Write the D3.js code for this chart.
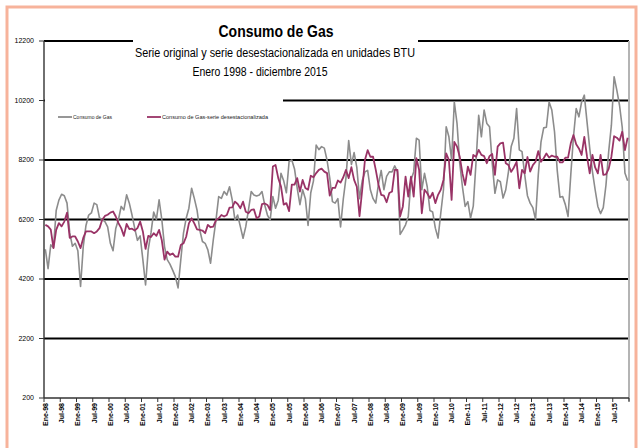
<!DOCTYPE html>
<html>
<head>
<meta charset="utf-8">
<script src="https://cdn.jsdelivr.net/npm/d3@7/dist/d3.min.js"></script>
<style>
body { margin: 0; background: #fff; }
svg { display: block; font-family: "Liberation Sans", Arial, sans-serif; }
</style>
</head>
<body>
<div id="chart"></div>
<script>
// etiquetas del eje x, una cada 6 meses
var tickLabels = ["Ene-98","Jul-98","Ene-99","Jul-99","Ene-00","Jul-00","Ene-01","Jul-01",
    "Ene-02","Jul-02","Ene-03","Jul-03","Ene-04","Jul-04","Ene-05","Jul-05","Ene-06","Jul-06",
    "Ene-07","Jul-07","Ene-08","Jul-08","Ene-09","Jul-09","Ene-10","Jul-10","Ene-11","Jul-11",
    "Ene-12","Jul-12","Ene-13","Jul-13","Ene-14","Jul-14","Ene-15","Jul-15"];
var yTicks = [200, 2200, 4200, 6200, 8200, 10200, 12200];
var seriesNames = ["Consumo de Gas", "Consumo de Gas-serie desestacionalizada"];

// serie original, ene-1998 .. dic-2015
var consumo = [
    5200, 4550, 5350, 5250, 6500, 6850, 7050, 7000, 6750, 5750, 5300, 5400,
    5150, 3950, 5300, 6000, 6350, 6420, 6750, 6700, 6250, 6200, 6130, 5950,
    5400, 5150, 5900, 6200, 6640, 6520, 7030, 6750, 6350, 5900, 5500, 5650,
    4850, 4000, 5200, 5750, 6450, 6200, 6860, 6200, 5290, 4850, 4700, 4500,
    4280, 3900, 4840, 5740, 6240, 6580, 7250, 6910, 6520, 5850, 5460, 5400,
    5180, 4730, 5510, 6180, 6970, 6910, 7140, 7020, 7300, 6860, 6180, 6350,
    5960, 5570, 5960, 6520, 7140, 7020, 6990, 7020, 7140, 6690, 6350, 6180,
    6970, 6580, 6850, 7750, 7500, 7100, 8150, 8200, 7900, 7250, 6700, 7200,
    6900, 6000, 7100, 7500, 8700, 8550, 8650, 8600, 8200, 7600, 6800, 6750,
    6900, 5950, 6880, 7600, 8850, 8050, 8450, 7950, 6900, 7500, 7800, 7850,
    7200, 6900, 6750, 7400, 7850, 7200, 7650, 7800, 7800, 8000, 7800, 5700,
    5850, 6020, 6300, 7530, 7800, 8930, 8870, 7200, 7750, 7300, 6500, 6450,
    5910, 5575, 6410, 7200, 9320, 8980, 8200, 10150, 9430, 8090, 7300, 6640,
    6800, 6250, 6650, 8100, 9700, 8980, 9880, 9430, 9320, 8090, 7080, 7530,
    7470, 6920, 7200, 7810, 8650, 8930, 9930, 8540, 8480, 7700, 7000, 6750,
    6600, 6200, 7700, 8800, 9280, 9300, 10150, 9880, 9150, 7850, 6950, 6970,
    6700, 6300, 7700, 8980, 9930, 9650, 10150, 10380, 9480, 8590, 7810, 7200,
    6640, 6400, 6600, 7360, 8480, 9370, 11000, 10550, 10040, 9300, 7760, 7500
];
// serie desestacionalizada
var desest = [
    6020, 5970, 5860, 5240, 5850, 6080, 5970, 6130, 6430, 5580, 5630, 5630,
    5460, 5240, 5580, 5800, 5800, 5800, 5740, 5800, 5910, 6190, 6320, 6360,
    6430, 6470, 6300, 6080, 5910, 5650, 6050, 5880, 5890, 5830, 5910, 6130,
    5800, 5210, 5650, 5610, 5740, 5650, 5850, 5500, 4850, 5120, 5010, 5060,
    4950, 4950, 5340, 5400, 5620, 6070, 6240, 6070, 5870, 5850, 5830, 5740,
    6020, 5940, 5960, 6180, 6240, 6350, 6300, 6350, 6600, 6610, 6800, 6720,
    6580, 6800, 6460, 6410, 6520, 6540, 6240, 6300, 6720, 6740, 6690, 6520,
    7980, 8030, 7590, 7310, 6700, 6750, 6480, 7370, 7370, 7590, 7140, 7530,
    7260, 7200, 7670, 7620, 7760, 7870, 7910, 7810, 7760, 7000, 7260, 7260,
    7510, 7440, 7620, 7870, 7590, 7960, 7530, 7300, 6310, 7200, 8200, 8530,
    8310, 8310, 7870, 7370, 7030, 7000, 6780, 7090, 7140, 7870, 7870, 6310,
    6640, 7640, 6970, 7640, 6970, 8260, 7870, 6410, 7200, 7080, 6920, 7100,
    6750, 7030, 7200, 7530, 8420, 8200, 6860, 8810, 8650, 8310, 7750, 7360,
    7980, 7700, 8370, 8310, 8540, 8370, 8330, 8090, 8330, 8400, 7700, 8650,
    8760, 8780, 8090, 8030, 7800, 7950, 8140, 7250, 7870, 7750, 8300, 7810,
    8030, 8140, 8500, 8140, 8260, 8420, 8280, 8350, 8310, 8310, 8120, 8120,
    8280, 8280, 8760, 9040, 8730, 8590, 8370, 8980, 8310, 7750, 8370, 7950,
    7750, 8370, 7700, 7720, 7900, 8310, 9000, 8950, 8850, 9150, 8530, 8950
];

var W = 642, H = 448,
    pLeft = 44, pRight = 629, pTop = 41, pBottom = 398;

var svg = d3.select("#chart").append("svg")
    .attr("width", W)
    .attr("height", H);

// marco naranja
svg.append("rect")
    .attr("x", 7).attr("y", 7)
    .attr("width", 629).attr("height", 446)
    .attr("fill", "#fff")
    .attr("stroke", "#F7B39B")
    .attr("stroke-width", 3);

var x = d3.scaleBand().domain(d3.range(consumo.length)).range([pLeft, pRight]);
var y = d3.scaleLinear().domain([200, 12200]).range([pBottom, pTop]);
var bw = x.bandwidth();

// lineas de grilla
svg.append("g").selectAll("line")
    .data(yTicks.slice(1))
    .enter().append("line")
    .attr("x1", pLeft).attr("x2", pRight)
    .attr("y1", function (d) { return y(d); })
    .attr("y2", function (d) { return y(d); })
    .attr("stroke", "#000")
    .attr("stroke-width", 2.2);

// borde derecho del area
svg.append("line")
    .attr("x1", pRight).attr("x2", pRight)
    .attr("y1", pTop).attr("y2", pBottom + 3)
    .attr("stroke", "#b4b4b4").attr("stroke-width", 2);

// series
var line = d3.line()
    .x(function (d, i) { return x(i) + bw / 2; })
    .y(function (d) { return y(d); });

svg.append("path").datum(consumo)
    .attr("d", line)
    .attr("fill", "none")
    .attr("stroke", "#8c8c8c")
    .attr("stroke-width", 1.6)
    .attr("stroke-linejoin", "round");

svg.append("path").datum(desest)
    .attr("d", line)
    .attr("fill", "none")
    .attr("stroke", "#993366")
    .attr("stroke-width", 1.8)
    .attr("stroke-linejoin", "round");

// eje y
var yAxis = svg.append("g");
yAxis.append("line")
    .attr("x1", pLeft).attr("x2", pLeft)
    .attr("y1", pTop).attr("y2", pBottom)
    .attr("stroke", "#333").attr("stroke-width", 1.4);
yAxis.selectAll(".tk").data(yTicks).enter().append("line")
    .attr("x1", pLeft - 5).attr("x2", pLeft)
    .attr("y1", function (d) { return y(d); })
    .attr("y2", function (d) { return y(d); })
    .attr("stroke", "#333").attr("stroke-width", 1);
yAxis.selectAll("text").data(yTicks).enter().append("text")
    .attr("x", 34)
    .attr("y", function (d) { return y(d); })
    .attr("dy", "0.35em")
    .attr("text-anchor", "end")
    .attr("font-size", 7)
    .attr("fill", "#000")
    .text(function (d) { return d; });

// eje x
var xAxis = svg.append("g");
xAxis.append("line")
    .attr("x1", pLeft).attr("x2", pRight)
    .attr("y1", pBottom).attr("y2", pBottom)
    .attr("stroke", "#333").attr("stroke-width", 1.3);
var tickIdx = d3.range(0, consumo.length + 1, 6);
xAxis.selectAll(".tk").data(tickIdx).enter().append("line")
    .attr("x1", function (i) { return i < consumo.length ? x(i) : pRight; })
    .attr("x2", function (i) { return i < consumo.length ? x(i) : pRight; })
    .attr("y1", pBottom).attr("y2", pBottom + 4)
    .attr("stroke", "#333").attr("stroke-width", 1);
xAxis.selectAll("text").data(tickLabels).enter().append("text")
    .attr("transform", function (d, k) {
        return "translate(" + (x(k * 6) + bw / 2) + "," + (pBottom + 5) + ") rotate(-90)";
    })
    .attr("dy", "0.35em")
    .attr("text-anchor", "end")
    .attr("font-size", 7)
    .attr("font-weight", "bold")
    .attr("fill", "#000")
    .text(function (d) { return d; });

// caja del titulo
svg.append("rect")
    .attr("x", 133).attr("y", 20)
    .attr("width", 285).attr("height", 64)
    .attr("fill", "#fff");
svg.append("text")
    .attr("x", 276).attr("y", 37)
    .attr("text-anchor", "middle")
    .attr("font-size", 16).attr("font-weight", "bold")
    .attr("textLength", 115).attr("lengthAdjust", "spacingAndGlyphs")
    .text("Consumo de Gas");
svg.append("text")
    .attr("x", 275).attr("y", 57)
    .attr("text-anchor", "middle")
    .attr("font-size", 12)
    .attr("textLength", 280).attr("lengthAdjust", "spacingAndGlyphs")
    .text("Serie original y serie desestacionalizada en unidades BTU");
svg.append("text")
    .attr("x", 260).attr("y", 76)
    .attr("text-anchor", "middle")
    .attr("font-size", 12)
    .attr("textLength", 135).attr("lengthAdjust", "spacingAndGlyphs")
    .text("Enero 1998 - diciembre 2015");

// leyenda
svg.append("rect")
    .attr("x", pLeft + 1).attr("y", 94)
    .attr("width", 238).attr("height", 38)
    .attr("fill", "#fff");
var legColors = ["#8c8c8c", "#993366"],
    legX = [58, 147],
    legW = [39, 106];
var leg = svg.append("g").selectAll("g")
    .data(seriesNames)
    .enter().append("g")
    .attr("transform", function (d, k) { return "translate(" + legX[k] + ",117)"; });
leg.append("line")
    .attr("x1", 0).attr("x2", 14)
    .attr("stroke", function (d, k) { return legColors[k]; })
    .attr("stroke-width", 1.8);
leg.append("text")
    .attr("x", 15).attr("dy", "0.35em")
    .attr("font-size", 6)
    .attr("fill", "#222")
    .attr("textLength", function (d, k) { return legW[k]; })
    .attr("lengthAdjust", "spacingAndGlyphs")
    .text(function (d) { return d; });
</script>
</body>
</html>
